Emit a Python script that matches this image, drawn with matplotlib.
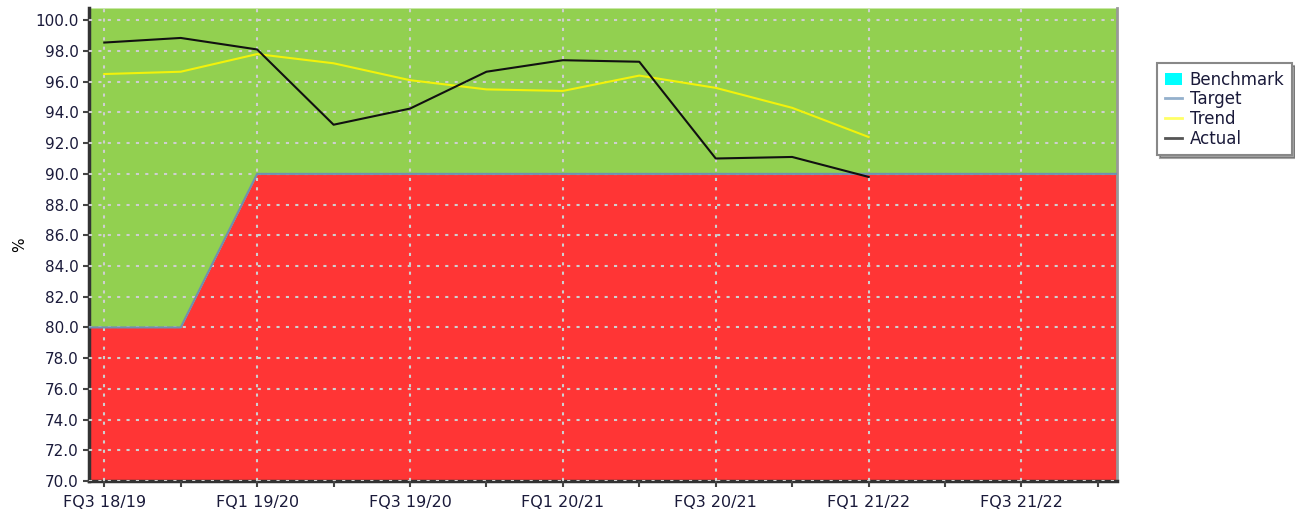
import matplotlib.pyplot as plt
from matplotlib.patches import Patch
from matplotlib.lines import Line2D

# quarters, index 0 = FQ3 18/19
quarters = ["FQ3 18/19", "FQ4 18/19", "FQ1 19/20", "FQ2 19/20", "FQ3 19/20",
            "FQ4 19/20", "FQ1 20/21", "FQ2 20/21", "FQ3 20/21", "FQ4 20/21",
            "FQ1 21/22", "FQ2 21/22", "FQ3 21/22", "FQ4 21/22"]
target_x = [-0.2, 0, 1, 2, 3, 4, 5, 6, 7, 8, 9, 10, 11, 12, 13, 13.25]
target = [80, 80, 80, 90, 90, 90, 90, 90, 90, 90, 90, 90, 90, 90, 90, 90]
actual = [98.55, 98.85, 98.1, 93.2, 94.25, 96.65, 97.4, 97.3, 91.0, 91.1, 89.8]
trend = [96.5, 96.65, 97.8, 97.2, 96.1, 95.5, 95.4, 96.4, 95.6, 94.3, 92.4]

plt.rcParams['font.family'] = ['DejaVu Sans']

fig = plt.figure(figsize=(12.95, 5.17), dpi=100)
ax = fig.add_axes([89 / 1295, 1 - 481 / 517, (1117 - 89) / 1295, (481 - 8) / 517])

ymin, ymax = 70, 100.8
ax.fill_between(target_x, ymin, target, color="#ff3535", zorder=1, lw=0)
ax.fill_between(target_x, target, ymax, color="#92d050", zorder=1, lw=0)
ax.plot(target_x, target, color="#6f8fb0", lw=1.5, zorder=3)

xs = range(len(actual))
ax.plot(xs, trend, color="#f2f20a", lw=1.5, zorder=4)
ax.plot(xs, actual, color="#111111", lw=1.5, zorder=5)

ax.set_xlim(-0.2, 13.25)
ax.set_ylim(ymin, ymax)

ax.set_yticks([70 + 2 * i for i in range(16)])
ax.set_yticklabels(["%.1f" % (70 + 2 * i) for i in range(16)], fontsize=11, color="#1a1a3a")
major = list(range(0, 14, 2))
ax.set_xticks(major)
ax.set_xticklabels([quarters[i] for i in major], fontsize=11.5, color="#1a1a3a")
ax.set_xticks(list(range(1, 14, 2)), minor=True)
ax.tick_params(axis="both", which="both", length=4, width=1.5, color="#444444")
ax.tick_params(axis="x", pad=6)

ax.grid(True, which="major", color="#cfcfcf", linestyle=(0, (1.5, 3)), lw=1.5, zorder=2)
ax.set_axisbelow(False)

for s in ["left", "bottom"]:
    ax.spines[s].set_color("#333333")
    ax.spines[s].set_linewidth(2.5)
ax.spines["right"].set_color("#999999")
ax.spines["right"].set_linewidth(2)
ax.spines["top"].set_visible(False)

ax.set_ylabel("%", fontsize=11, labelpad=6)

handles = [Patch(facecolor="#00ffff", edgecolor="none"),
           Line2D([], [], color="#94b0cc", lw=2),
           Line2D([], [], color="#ffff66", lw=2),
           Line2D([], [], color="#555555", lw=2)]
leg = fig.legend(handles, ["Benchmark", "Target", "Trend", "Actual"],
                 loc="upper left", bbox_to_anchor=(1149 / 1295, 1 - 55 / 517),
                 fontsize=12, frameon=True, fancybox=False, shadow=True,
                 handlelength=1.0, handleheight=0.8, handletextpad=0.5,
                 labelspacing=0.1, borderpad=0.45)
leg.get_frame().set_edgecolor("#888888")
leg.get_frame().set_linewidth(1.5)
for t in leg.get_texts():
    t.set_color("#1a1a3a")

fig.savefig("out.png", dpi=100)
